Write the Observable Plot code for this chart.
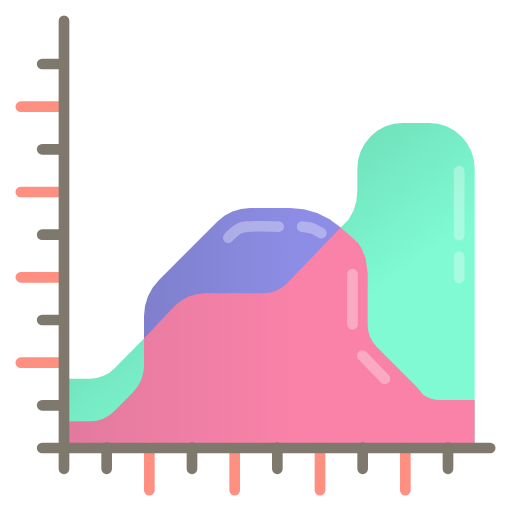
<!DOCTYPE html>
<html>
<head>
<meta charset="utf-8">
<style>html,body{margin:0;padding:0;background:#fff}svg{display:block}</style>
<script src="https://cdn.jsdelivr.net/npm/d3@7"></script>
<script src="https://cdn.jsdelivr.net/npm/@observablehq/plot@0.6"></script>
</head>
<body>
<script>
const grayTicks = [1, 3, 5, 7, 9];
const salmonTicks = [2, 4, 6, 8];

const greenX = [0,.61,.766,.916,1.055,1.176,1.875,6.486,6.672,6.784,6.852,6.875,6.875,6.895,6.956,7.056,7.19,7.35,7.535,7.736,7.945,8.555,8.764,8.965,9.15,9.312,9.444,9.544,9.605,9.625,9.625];
const greenY = [1.625,1.625,1.64,1.686,1.76,1.859,2.566,5.17,5.353,5.561,5.786,6.02,6.55,6.759,6.96,7.145,7.307,7.439,7.539,7.60,7.62,7.62,7.60,7.539,7.439,7.307,7.145,6.96,6.759,6.55,1.125];

const blueX = [1.875,1.875,1.898,1.966,2.077,2.227,3.596,3.76,3.947,4.149,4.36,5.30,5.622,5.934,6.225,6.486];
const blueY = [2.566,3.09,3.324,3.549,3.757,3.939,5.309,5.443,5.543,5.604,5.625,5.625,5.595,5.507,5.364,5.17];

const pinkX = [-.117,.61,.766,.916,1.055,1.176,1.617,1.726,1.808,1.858,1.875,1.875,2.598,2.749,2.922,3.11,3.305,4.664,4.82,4.97,5.109,5.23,6.486,6.70,6.898,6.97,7.07,7.117,7.117,7.131,7.173,7.241,7.331,8.297,8.421,8.542,8.673,8.81,9.625];
const pinkY = [.625,.625,.64,.686,.76,.859,1.308,1.441,1.593,1.758,1.9,2.566,3.332,3.456,3.549,3.606,3.625,3.625,3.64,3.686,3.76,3.859,5.17,4.98,4.797,4.68,4.45,4.10,2.883,2.741,2.604,2.477,2.367,1.40,1.243,1.178,1.138,1.125,1.125];

const glintGreen1X = [9.25, 9.25], glintGreen1Y = [6.5, 5.0];
const glintGreen2X = [9.25, 9.25], glintGreen2Y = [4.5, 4.0];
const glintPink1X = [6.75, 6.75], glintPink1Y = [4.09, 2.91];
const glintPink2X = [6.98, 7.51], glintPink2Y = [2.18, 1.63];
const glintBlue1X = [3.84, 3.96, 4.10, 4.28, 5.02], glintBlue1Y = [4.94, 5.06, 5.16, 5.20, 5.20];
const glintBlue2X = [5.57, 5.80, 6.02], glintBlue2Y = [5.20, 5.16, 5.05];

const zip = (xs, ys) => xs.map((x, i) => ({x, y: ys[i]}));

function gradient(id, x1, y1, x2, y2, c1, c2) {
  const g = document.createElementNS("http://www.w3.org/2000/svg", "linearGradient");
  g.setAttribute("id", id);
  g.setAttribute("gradientUnits", "userSpaceOnUse");
  [["x1",x1],["y1",y1],["x2",x2],["y2",y2]].forEach(([k,v]) => g.setAttribute(k, v));
  [[0,c1],[1,c2]].forEach(([o,c]) => {
    const s = document.createElementNS("http://www.w3.org/2000/svg", "stop");
    s.setAttribute("offset", o);
    s.setAttribute("stop-color", c);
    g.appendChild(s);
  });
  return g;
}
const defs = () => {
  const d = document.createElementNS("http://www.w3.org/2000/svg", "defs");
  d.appendChild(gradient("gGreen", 350, 125, 440, 245, "#6fdfba", "#7ffad2"));
  d.appendChild(gradient("gBlue", 144, 0, 300, 0, "#7f7fcd", "#8d8de6"));
  d.appendChild(gradient("gPink", 64, 0, 300, 0, "#e27a9e", "#fa82a9"));
  return d;
};

const area = (xs, ys, fill) => Plot.area(zip(xs, ys), {
  x1: "x", x2: "x", y1: 0, y2: "y", fill
});
const glint = (xs, ys) => Plot.line(zip(xs, ys), {
  x: "x", y: "y", stroke: "#fff", strokeOpacity: 0.32, strokeWidth: 10.67,
  strokeLinecap: "round", strokeLinejoin: "round", curve: "catmull-rom"
});
const tickStyle = c => ({stroke: c, strokeWidth: 10.67, strokeLinecap: "round", dx: -0.5, dy: -0.5});

const chart = Plot.plot({
  width: 512, height: 512, margin: 0,
  x: {domain: [-1.5, 10.5], axis: null},
  y: {domain: [-1.5, 10.5], axis: null},
  marks: [
    defs,
    area(greenX, greenY, "url(#gGreen)"),
    area(blueX, blueY, "url(#gBlue)"),
    area(pinkX, pinkY, "url(#gPink)"),
    glint(glintGreen1X, glintGreen1Y),
    glint(glintGreen2X, glintGreen2Y),
    glint(glintPink1X, glintPink1Y),
    glint(glintPink2X, glintPink2Y),
    glint(glintBlue1X, glintBlue1Y),
    glint(glintBlue2X, glintBlue2Y),
    Plot.ruleX(salmonTicks, {y1: 0, y2: -1, ...tickStyle("#ff8f80")}),
    Plot.ruleY(salmonTicks, {x1: 0, x2: -1, ...tickStyle("#ff8f80")}),
    Plot.ruleX(grayTicks, {y1: 0, y2: -.5, ...tickStyle("#7f786c")}),
    Plot.ruleY(grayTicks, {x1: 0, x2: -.5, ...tickStyle("#7f786c")}),
    Plot.ruleX([0], {y1: -.5, y2: 10, ...tickStyle("#7f786c")}),
    Plot.ruleY([0], {x1: -.5, x2: 10, ...tickStyle("#7f786c")})
  ]
});
document.body.appendChild(chart);
</script>
</body>
</html>
